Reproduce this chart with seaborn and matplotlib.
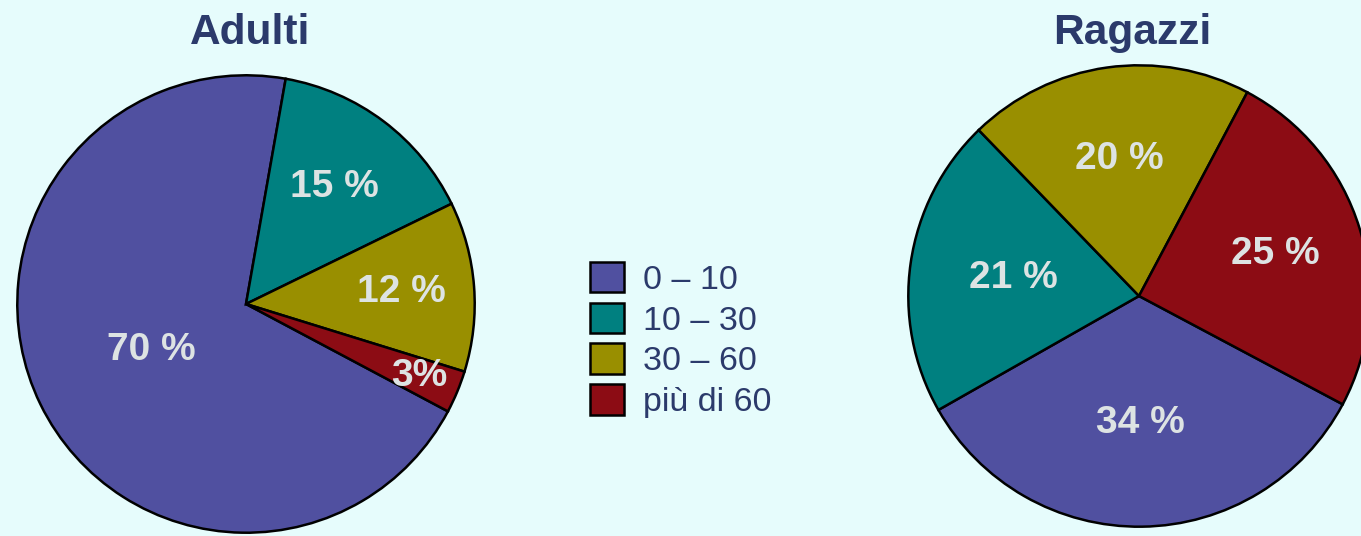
import numpy as np
import seaborn as sns
import matplotlib.pyplot as plt

# data
categories = ["0 – 10", "10 – 30", "30 – 60", "più di 60"]
adulti = [70, 15, 12, 3]
ragazzi = [34, 21, 20, 25]
adulti_labels = ["70 %", "15 %", "12 %", "3%"]
ragazzi_labels = ["34 %", "21 %", "20 %", "25 %"]

# style
sns.set_theme(style="white")
plt.rcParams["font.family"] = ["Liberation Sans", "DejaVu Sans"]
palette = sns.color_palette(["#5050a0", "#008080", "#998f00", "#8c0c14"])
bg = "#e6fcfc"
navy = "#2b3a6b"
pct_color = "#dde3e3"

W, H = 1361, 536
fig = plt.figure(figsize=(W / 100, H / 100), dpi=100, facecolor=bg)


def draw_pie(cx, cy, r, values, labels, dists):
    ax = fig.add_axes([(cx - r) / W, (H - cy - r) / H, 2 * r / W, 2 * r / H])
    ax.set_facecolor("none")
    wedges, _ = ax.pie(values, colors=palette, startangle=-28, counterclock=False,
                       radius=1, wedgeprops=dict(edgecolor="black", linewidth=1.8))
    for w, lab, d in zip(wedges, labels, dists):
        ang = np.deg2rad((w.theta1 + w.theta2) / 2)
        ax.text(d * np.cos(ang), d * np.sin(ang), lab, ha="center", va="center",
                color=pct_color, fontsize=28, fontweight="bold")
    ax.set_xlim(-1.01, 1.01)
    ax.set_ylim(-1.01, 1.01)
    ax.set_aspect("equal")
    ax.axis("off")
    return wedges


wedges = draw_pie(246, 304, 231, adulti, adulti_labels, [0.46, 0.64, 0.68, 0.82])
draw_pie(1139, 296, 233, ragazzi, ragazzi_labels, [0.55, 0.55, 0.6, 0.62])

fig.text(250 / W, 1 - 33 / H, "Adulti", ha="center", va="center",
         fontsize=30.5, fontweight="bold", color=navy)
fig.text(1132 / W, 1 - 33 / H, "Ragazzi", ha="center", va="center",
         fontsize=30.5, fontweight="bold", color=navy)

fig.legend(handles=wedges, labels=categories, loc="upper left",
           bbox_to_anchor=(573 / W, 1 - 245 / H), frameon=False,
           fontsize=24.5, labelcolor=navy, handlelength=1.0, handleheight=1.0,
           handletextpad=0.56, labelspacing=0.2, borderpad=0)

fig.savefig("out.png", dpi=100, facecolor=bg)
